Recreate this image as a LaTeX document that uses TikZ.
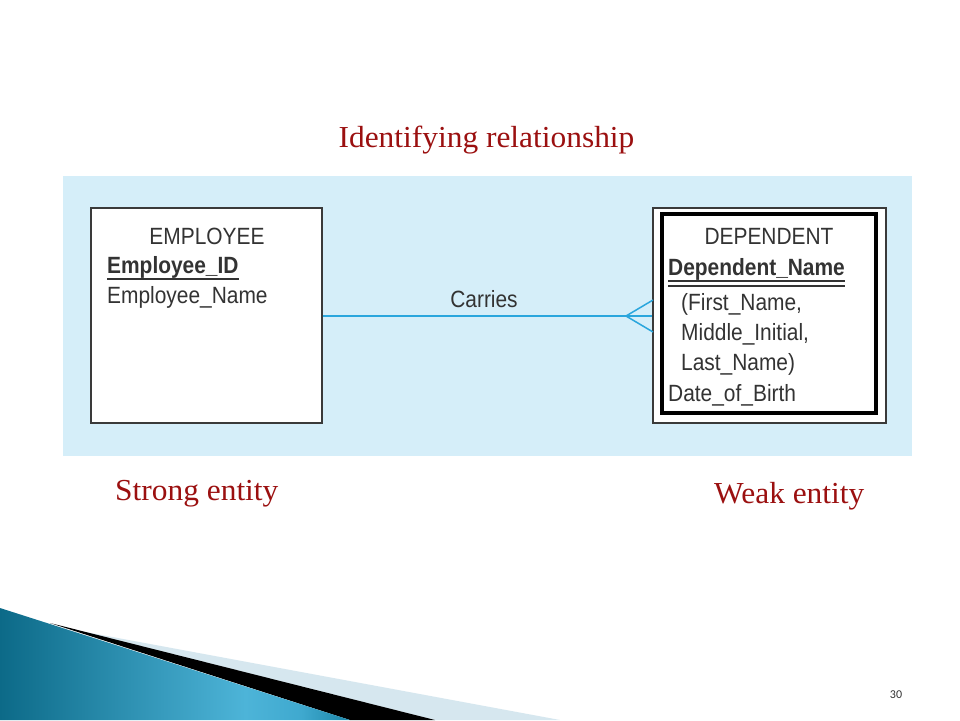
\documentclass[tikz,border=0pt]{standalone}
\usepackage{fontspec}
\setmainfont{Liberation Serif}
\newfontfamily\arialf{Liberation Sans}
\newfontfamily\calibf{Carlito}
\definecolor{panelblue}{HTML}{D5EEF9}
\definecolor{linkblue}{HTML}{2AA6DD}
\definecolor{titlered}{HTML}{9B1010}
\definecolor{boxgray}{HTML}{3A3A3A}
\definecolor{txtgray}{HTML}{333333}
\definecolor{tA}{HTML}{0C6A88}
\definecolor{tB}{HTML}{4DB4D8}
\definecolor{tC}{HTML}{3FA9CF}
\definecolor{tD}{HTML}{1C86A8}
\definecolor{bandlight}{HTML}{D6E7EF}
\pgfdeclarehorizontalshading{tealsh}{100bp}{color(0bp)=(tA); color(25bp)=(tA); color(60bp)=(tB); color(68bp)=(tC); color(75bp)=(tD); color(100bp)=(tD)}
\tikzset{
  redlabel/.style={font=\fontsize{30.5}{36}\selectfont, text=titlered, inner sep=0pt, xscale=1.03},
  attr/.style={font=\arialf\fontsize{23.5}{28}\selectfont, text=txtgray, inner sep=0pt, xscale=0.89, anchor=base west},
  attrbold/.style={attr, font=\arialf\bfseries\fontsize{23.5}{28}\selectfont},
  entbox/.style={draw=boxgray, line width=1.5pt, fill=white, inner sep=0pt},
  link/.style={draw=linkblue, line width=2pt},
  uline/.style={draw=txtgray, line width=1.3pt}
}
\begin{document}
\begin{tikzpicture}[x=1pt,y=-1pt]
\useasboundingbox (0,0) rectangle (960,720);
\fill[white] (0,0) rectangle (960,720);
% bottom-left decoration
\fill[bandlight] (80,631) -- (560,720) -- (435,720) -- cycle;
\fill[black] (50,623) -- (435,720) -- (350,720) -- cycle;
\shade[shading=tealsh] (0,608) -- (350,720) -- (0,720) -- cycle;
% title
\node[redlabel, anchor=base] (title) at (486.5,147) {Identifying relationship};
% panel
\node[fill=panelblue, minimum width=849pt, minimum height=280pt, inner sep=0pt] (panel) at (487.5,316) {};
% entity boxes
\node[entbox, minimum width=231pt, minimum height=215pt] (emp) at (206.5,315.5) {};
\node[entbox, minimum width=233pt, minimum height=215pt] (dep) at (769.5,315.5) {};
\node[draw=black, line width=3.2pt, minimum width=214pt, minimum height=199pt, inner sep=0pt] (depin) at (769,313.5) {};
% connector
\draw[link] (emp.east) -- (dep.west);
\coordinate (cf) at (626,316);
\coordinate (cfa) at (653,300);
\coordinate (cfb) at (653,332);
\draw[link, line width=1.5pt] (cfa) -- (cf) -- (cfb);
\node[attr, anchor=base] (carries) at (484,307) {Carries};
% employee texts
\node[attr, anchor=base] (empname) at (207,244) {EMPLOYEE};
\node[attrbold] (eid) at (107,273) {Employee\_ID};
\draw[uline] ([yshift=-6pt]eid.base west) -- ([yshift=-6pt]eid.base east);
\node[attr] (ename) at (107,303) {Employee\_Name};
% dependent texts
\node[attr, anchor=base] (depname) at (769,244) {DEPENDENT};
\node[attrbold] (dname) at (668,275) {Dependent\_Name};
\draw[uline] ([yshift=-6pt]dname.base west) -- ([yshift=-6pt]dname.base east);
\draw[uline] ([yshift=-11pt]dname.base west) -- ([yshift=-11pt]dname.base east);
\node[attr] (fn) at (681,310) {(First\_Name,};
\node[attr] (mi) at (681,340) {Middle\_Initial,};
\node[attr] (ln) at (681,370) {Last\_Name)};
\node[attr] (dob) at (668,401) {Date\_of\_Birth};
% labels
\node[redlabel, anchor=base west] (strong) at (115,500) {Strong entity};
\node[redlabel, anchor=base west] (weak) at (714,503) {Weak entity};
% page number
\node[font=\calibf\fontsize{12}{14}\selectfont, text=txtgray, anchor=base, inner sep=0pt] (pnum) at (896,698) {30};
\end{tikzpicture}
\end{document}
